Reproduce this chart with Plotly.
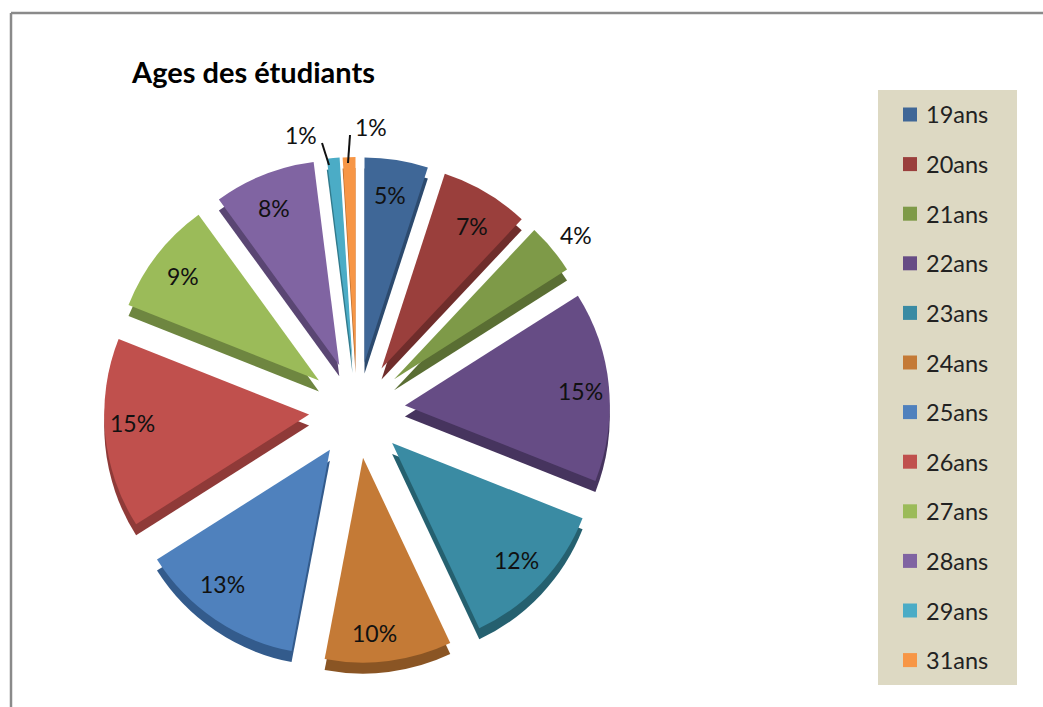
import plotly.graph_objects as go

labels = ["19ans","20ans","21ans","22ans","23ans","24ans","25ans","26ans","27ans","28ans","29ans","31ans"]
values = [5,7,4,15,12,10,13,15,9,8,1,1]
colors = ["#3F6797","#9A3F3C","#7E9A48","#664C85","#3A8BA3","#C47A36","#4F81BD","#C0504D","#9BBB59","#8064A2","#4BACC6","#F79646"]
shades = ["#2C4A6E","#6F2D2B","#5A6E33","#46345E","#25606F","#8A5524","#335B8C","#8F3A38","#6E8640","#5A4673","#317A8C","#B56A2E"]

pull_amount = 0.235
W, H = 1043, 707
cx, cy, size = 357, 410, 506
FONT = "Lato"
# where each percentage label sits on the page (pixels, from top-left)
label_xy = [(390,195),(472,226),(576,235),(580,391),(516,560),(374,633),(222,584),(132,423),(183,276),(274,208),(301,135),(371,127)]
# leader lines of the two smallest slices (pixels)
leaders = [((322,143),(329,165)), ((350,135),(348,163))]

def X(px): return px/W
def Y(py): return 1-py/H
def dom(cx, cy, size):
    return dict(x=[X(cx-size/2), X(cx+size/2)], y=[Y(cy+size/2), Y(cy-size/2)])

fig = go.Figure()
fig.add_trace(go.Pie(labels=labels, values=values, sort=False, direction="clockwise", rotation=0,
    pull=pull_amount, domain=dom(cx, cy+11, size), marker=dict(colors=shades, line=dict(width=0)),
    textinfo="none", hoverinfo="skip", showlegend=False, automargin=False))
fig.add_trace(go.Pie(labels=labels, values=values, sort=False, direction="clockwise", rotation=0,
    pull=pull_amount, domain=dom(cx, cy, size), marker=dict(colors=colors, line=dict(width=0)),
    textinfo="none", automargin=False, showlegend=False))

shapes = [
    dict(type="line", xref="paper", yref="paper", x0=X(11), x1=1, y0=Y(13), y1=Y(13), line=dict(color="#8a8a8a", width=2.5)),
    dict(type="line", xref="paper", yref="paper", x0=X(11), x1=X(11), y0=0, y1=Y(13), line=dict(color="#8a8a8a", width=2.5)),
    dict(type="rect", xref="paper", yref="paper", x0=X(878), x1=X(1017), y0=Y(685), y1=Y(90), fillcolor="#DDD9C3", line=dict(width=0), layer="below"),
]
for (a, b) in leaders:
    shapes.append(dict(type="line", xref="paper", yref="paper", x0=X(a[0]), y0=Y(a[1]), x1=X(b[0]), y1=Y(b[1]), line=dict(color="#111111", width=2)))

anns = [dict(text="Ages des étudiants", x=X(129), y=Y(71), xref="paper", yref="paper", xanchor="left", yanchor="middle",
             showarrow=False, font=dict(family=FONT, size=29, color="#000000", weight="bold"))]
for v, (px, py) in zip(values, label_xy):
    anns.append(dict(text=f"{v}%", x=X(px), y=Y(py), xref="paper", yref="paper", xanchor="center", yanchor="middle",
                     showarrow=False, font=dict(family=FONT, size=23, color="#111111")))
for i, (lab, col) in enumerate(zip(labels, colors)):
    y = 114.5 + i*49.6
    shapes.append(dict(type="rect", xref="paper", yref="paper", x0=X(903), x1=X(917), y0=Y(y+7), y1=Y(y-7), fillcolor=col, line=dict(width=0)))
    anns.append(dict(text=lab, x=X(924), y=Y(y), xref="paper", yref="paper", xanchor="left", yanchor="middle",
                     showarrow=False, font=dict(family=FONT, size=23.5, color="#222222")))

fig.update_layout(width=W, height=H, margin=dict(l=0,r=0,t=0,b=0,autoexpand=False), paper_bgcolor="white", shapes=shapes, annotations=anns, showlegend=False)
fig.write_html("out.html", config=dict(displayModeBar=False), post_script="document.body.style.margin='0';")
